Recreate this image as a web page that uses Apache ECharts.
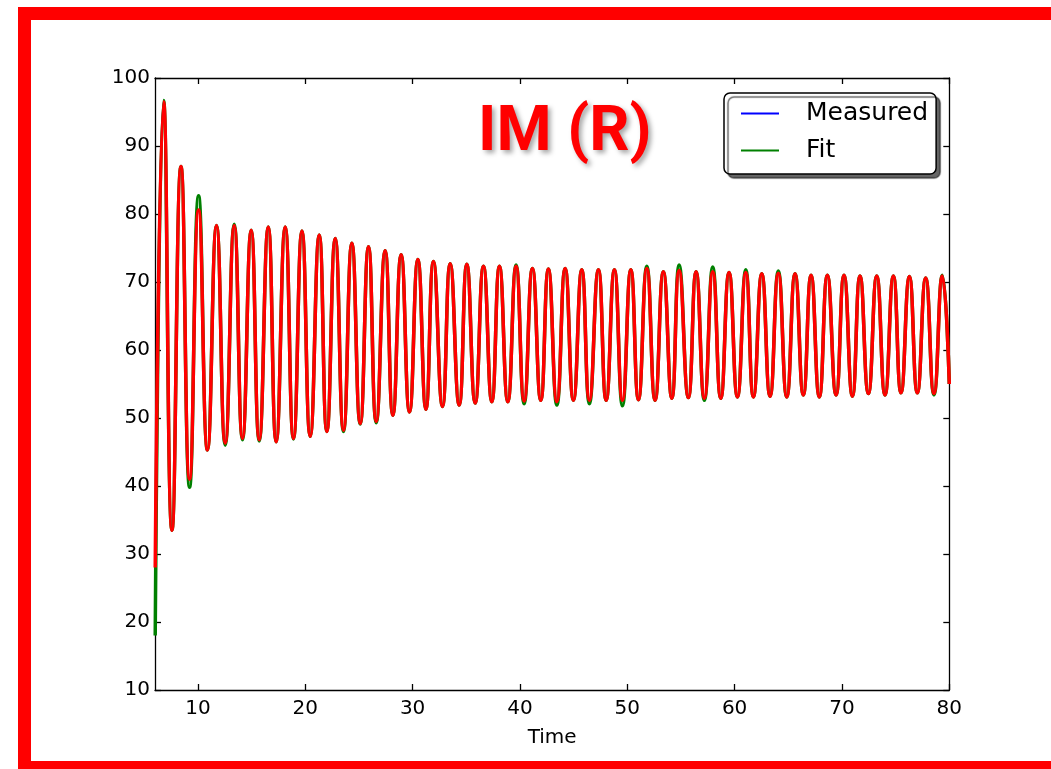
<!DOCTYPE html>
<html>
<head>
<meta charset="utf-8">
<script src="https://cdn.jsdelivr.net/npm/echarts@6/dist/echarts.min.js"></script>
<style>
html,body{margin:0;padding:0;background:#fff;}
#chart{width:1051px;height:769px;}
</style>
</head>
<body>
<div id="chart"></div>
<script>
// Time of each extreme (peaks and troughs)
var times = [6.02,6.80,7.58,8.42,9.22,10.06,10.89,11.73,12.54,13.38,14.15,14.96,15.71,16.55,17.29,18.13,18.90,19.69,20.46,21.30,
  22.01,22.79,23.56,24.34,25.12,25.89,26.61,27.44,28.16,28.93,29.71,30.49,31.24,31.94,32.78,33.50,34.34,35.05,35.83,36.60,
  37.38,38.09,38.87,39.64,40.39,41.16,41.94,42.65,43.44,44.21,44.98,45.76,46.47,47.31,48.03,48.80,49.55,50.33,51.04,51.82,
  52.59,53.36,54.15,54.83,55.69,56.41,57.18,57.96,58.71,59.48,60.26,61.04,61.75,62.53,63.30,64.07,64.86,65.63,66.40,67.12,
  67.89,68.64,69.45,70.19,70.97,71.68,72.46,73.24,74.01,74.79,75.50,76.28,77.02,77.80,78.57,79.35,80.00];
// Measured signal (drawn in red on top, blue underneath)
var measuredValues = [28.0,96.5,33.5,87.0,41.0,80.6,45.3,78.3,46.3,78.3,47.0,77.6,46.8,78.1,46.5,78.1,47.0,77.5,47.3,76.9,
  48.0,76.4,48.2,75.7,49.2,75.2,49.5,74.6,50.4,74.0,50.9,73.3,51.3,73.0,51.7,72.7,51.9,72.6,52.2,72.3,
  52.4,72.3,52.4,72.3,52.5,72.0,52.6,71.9,52.4,72.0,52.6,71.8,52.6,71.8,52.6,71.8,52.6,71.8,52.7,72.0,
  52.6,71.5,52.9,71.7,53.0,71.5,52.9,71.5,52.9,71.4,53.1,71.4,53.1,71.2,53.2,71.3,53.1,71.2,53.4,71.0,
  53.1,71.0,53.4,71.0,53.2,70.9,53.6,70.9,53.4,70.9,53.7,70.8,53.7,70.6,53.6,70.9,55.0];
// Fit (green)
var fitValues = [18.0,96.7,33.5,87.0,39.8,82.7,45.3,78.3,46.0,78.5,46.8,77.6,46.6,78.1,46.5,78.1,46.9,77.5,47.3,76.9,
  48.0,76.4,48.0,75.7,49.1,75.2,49.3,74.6,50.4,74.0,50.9,73.3,51.3,73.0,51.7,72.7,51.9,72.6,52.2,72.3,
  52.4,72.3,52.4,72.5,52.1,72.0,52.6,71.9,51.9,72.0,52.6,71.8,52.1,71.8,52.6,71.8,51.8,71.8,52.7,72.3,
  52.6,71.5,52.9,72.5,53.0,71.5,52.6,72.2,52.9,71.4,53.1,71.8,53.1,71.2,53.2,71.6,53.1,71.2,53.4,71.0,
  53.1,71.0,53.4,71.0,53.2,70.9,53.6,70.9,53.4,70.9,53.7,70.8,53.7,70.6,53.4,71.0,55.0];
var xTicks = [10,20,30,40,50,60,70,80];
var yMin = 10, yMax = 100, yStep = 10;
var xMin = 6, xMax = 80;
var legendNames = ['Measured','Fit'];
var titleText = 'IM (R)';
var xName = 'Time';

function pairs(ys){ return times.map(function(t,i){ return [t, ys[i]]; }); }

var chart = echarts.init(document.getElementById('chart'), null, {renderer:'canvas'});
var axisFont = {fontFamily:'DejaVu Sans', fontSize:20, color:'#000'};
var lineStyleAxis = {color:'#000', width:1.3};
chart.setOption({
  backgroundColor:'#fff',
  animation:false,
  title:{
    text:titleText, left:478, top:103, padding:0,
    textStyle:{color:'#ff0000', fontFamily:'Roboto', fontWeight:'bold', fontSize:63,
      textShadowColor:'rgba(0,0,0,0.35)', textShadowBlur:5, textShadowOffsetX:3, textShadowOffsetY:3}
  },
  legend:{
    data:legendNames.map(function(n){return {name:n, icon:'rect'};}),
    orient:'vertical', left:724, top:93,
    padding:[8,8,11,17], itemWidth:38, itemHeight:2, itemGap:12,
    backgroundColor:'#fff', borderColor:'#000', borderWidth:1.5, borderRadius:6,
    shadowColor:'rgba(0,0,0,0.6)', shadowBlur:1, shadowOffsetX:4, shadowOffsetY:4,
    textStyle:{fontFamily:'DejaVu Sans', fontSize:25, lineHeight:25, color:'#000', padding:[0,0,0,22]}
  },
  graphic:[{type:'rect', silent:true, z:100,
    shape:{x:24.5, y:13.5, width:1100, height:754},
    style:{fill:'none', stroke:'#ff0000', lineWidth:13}}],
  grid:{left:155, right:101.7, top:78, bottom:79},
  xAxis:[{
    type:'value', min:xMin, max:xMax, position:'bottom',
    name:xName, nameLocation:'middle', nameGap:38,
    nameTextStyle:{fontFamily:'DejaVu Sans', fontSize:20, color:'#000'},
    axisLine:{show:true, onZero:false, lineStyle:lineStyleAxis},
    axisTick:{show:true, inside:true, length:6, customValues:xTicks, lineStyle:lineStyleAxis},
    axisLabel:Object.assign({show:true, margin:9, customValues:xTicks}, axisFont),
    splitLine:{show:false}
  },{
    type:'value', min:xMin, max:xMax, position:'top',
    axisLine:{show:true, onZero:false, lineStyle:lineStyleAxis},
    axisTick:{show:true, inside:true, length:6, customValues:xTicks, lineStyle:lineStyleAxis},
    axisLabel:{show:false}, splitLine:{show:false}
  }],
  yAxis:[{
    type:'value', min:yMin, max:yMax, interval:yStep, position:'left',
    axisLine:{show:true, onZero:false, lineStyle:lineStyleAxis},
    axisTick:{show:true, inside:true, length:6, lineStyle:lineStyleAxis},
    axisLabel:Object.assign({show:true, margin:5}, axisFont),
    splitLine:{show:false}
  },{
    type:'value', min:yMin, max:yMax, interval:yStep, position:'right',
    axisLine:{show:true, onZero:false, lineStyle:lineStyleAxis},
    axisTick:{show:true, inside:true, length:6, lineStyle:lineStyleAxis},
    axisLabel:{show:false}, splitLine:{show:false}
  }],
  series:[
    {name:'Measured', type:'line', data:pairs(measuredValues), smooth:0.5, showSymbol:false, symbol:'none',
      itemStyle:{color:'#0000ff'}, lineStyle:{color:'#0000ff', width:2}, z:2},
    {name:'Fit', type:'line', data:pairs(fitValues), smooth:0.5, showSymbol:false, symbol:'none',
      itemStyle:{color:'#008000'}, lineStyle:{color:'#008000', width:3.5}, z:3},
    {name:'IM (R) measured', type:'line', data:pairs(measuredValues), smooth:0.5, showSymbol:false, symbol:'none',
      itemStyle:{color:'#ff0000'}, lineStyle:{color:'#ff0000', width:3.5}, z:4}
  ]
});
</script>
</body>
</html>
